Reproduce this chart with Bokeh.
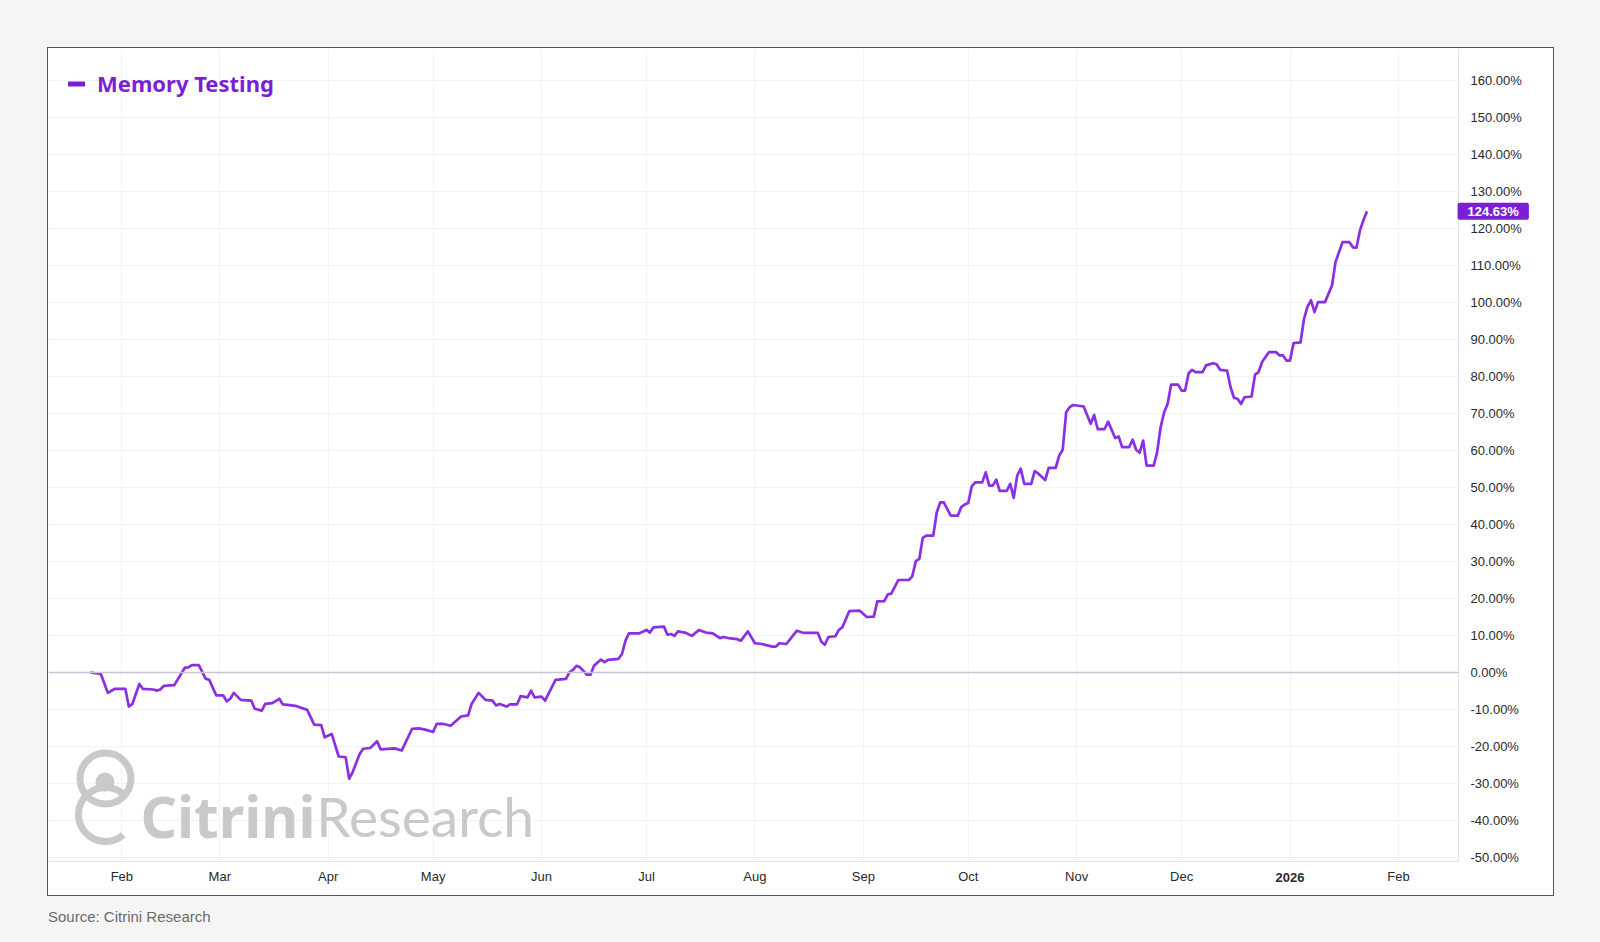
import math
import datetime as dt
from bokeh.plotting import figure
from bokeh.models import (FixedTicker, PrintfTickFormatter, DatetimeTickFormatter, Span, Label,
                          Legend, LegendItem, ColumnDataSource, Div, Spacer)
from bokeh.layouts import column, row
from bokeh.embed import file_html
from bokeh.resources import INLINE

# ---------------- data ----------------
series_name = "Memory Testing"

dates = [
    "2025-01-23", "2025-01-26", "2025-01-28", "2025-01-30",
    "2025-02-02", "2025-02-03", "2025-02-04", "2025-02-06", "2025-02-07", "2025-02-10", "2025-02-11",
    "2025-02-12", "2025-02-13", "2025-02-16", "2025-02-19", "2025-02-20", "2025-02-21", "2025-02-23",
    "2025-02-25", "2025-02-26", "2025-02-28",
    "2025-03-02", "2025-03-03", "2025-03-04", "2025-03-05", "2025-03-07", "2025-03-10", "2025-03-11",
    "2025-03-13", "2025-03-14", "2025-03-16", "2025-03-18", "2025-03-19", "2025-03-21", "2025-03-23",
    "2025-03-26", "2025-03-28", "2025-03-30", "2025-03-31",
    "2025-04-02", "2025-04-04", "2025-04-06", "2025-04-07", "2025-04-08", "2025-04-10", "2025-04-11",
    "2025-04-13", "2025-04-15", "2025-04-16", "2025-04-20", "2025-04-22", "2025-04-25", "2025-04-27",
    "2025-04-29",
    "2025-05-01", "2025-05-02", "2025-05-04", "2025-05-06", "2025-05-09", "2025-05-11", "2025-05-12",
    "2025-05-14", "2025-05-16", "2025-05-18", "2025-05-19", "2025-05-20", "2025-05-22", "2025-05-23",
    "2025-05-25", "2025-05-26", "2025-05-28", "2025-05-29", "2025-05-30",
    "2025-06-01", "2025-06-02", "2025-06-05", "2025-06-08", "2025-06-09", "2025-06-10", "2025-06-11",
    "2025-06-12", "2025-06-14", "2025-06-15", "2025-06-16", "2025-06-18", "2025-06-19", "2025-06-20",
    "2025-06-23", "2025-06-24", "2025-06-25", "2025-06-26", "2025-06-29",
    "2025-07-01", "2025-07-02", "2025-07-03", "2025-07-06", "2025-07-07", "2025-07-08", "2025-07-09",
    "2025-07-10", "2025-07-12", "2025-07-14", "2025-07-16", "2025-07-18", "2025-07-20", "2025-07-22",
    "2025-07-23", "2025-07-25", "2025-07-27", "2025-07-28", "2025-07-30",
    "2025-08-01", "2025-08-03", "2025-08-06", "2025-08-07", "2025-08-08", "2025-08-10", "2025-08-13",
    "2025-08-15", "2025-08-19", "2025-08-20", "2025-08-21", "2025-08-22", "2025-08-24", "2025-08-25",
    "2025-08-26", "2025-08-28", "2025-08-31",
    "2025-09-02", "2025-09-04", "2025-09-05", "2025-09-07", "2025-09-08", "2025-09-09", "2025-09-11",
    "2025-09-14", "2025-09-15", "2025-09-16", "2025-09-17", "2025-09-18", "2025-09-19", "2025-09-21",
    "2025-09-22", "2025-09-23", "2025-09-24", "2025-09-26", "2025-09-28", "2025-09-29", "2025-09-30",
    "2025-10-01", "2025-10-02", "2025-10-03", "2025-10-05", "2025-10-06", "2025-10-07", "2025-10-08",
    "2025-10-09", "2025-10-10", "2025-10-12", "2025-10-13", "2025-10-14", "2025-10-15", "2025-10-16",
    "2025-10-17", "2025-10-19", "2025-10-20", "2025-10-21", "2025-10-23", "2025-10-24", "2025-10-26",
    "2025-10-27", "2025-10-28", "2025-10-29", "2025-10-30", "2025-10-31",
    "2025-11-03", "2025-11-05", "2025-11-06", "2025-11-07", "2025-11-09", "2025-11-10", "2025-11-12",
    "2025-11-13", "2025-11-14", "2025-11-16", "2025-11-17", "2025-11-18", "2025-11-19", "2025-11-20",
    "2025-11-21", "2025-11-23", "2025-11-24", "2025-11-25", "2025-11-26", "2025-11-27", "2025-11-28",
    "2025-11-30",
    "2025-12-01", "2025-12-02", "2025-12-03", "2025-12-04", "2025-12-05", "2025-12-07", "2025-12-08",
    "2025-12-10", "2025-12-11", "2025-12-12", "2025-12-14", "2025-12-15", "2025-12-16", "2025-12-17",
    "2025-12-18", "2025-12-19", "2025-12-21", "2025-12-22", "2025-12-23", "2025-12-24", "2025-12-26",
    "2025-12-28", "2025-12-29", "2025-12-30", "2025-12-31",
    "2026-01-01", "2026-01-02", "2026-01-04", "2026-01-05", "2026-01-06", "2026-01-07", "2026-01-08",
    "2026-01-09", "2026-01-11", "2026-01-13", "2026-01-14", "2026-01-16", "2026-01-18", "2026-01-19",
    "2026-01-20", "2026-01-21", "2026-01-22", "2026-01-23",
]

values = [
    0.0, -0.4, -5.5, -4.4,
    -4.4, -9.2, -8.5, -3.1, -4.4, -4.6, -4.9,
    -4.6, -3.6, -3.4, 1.3, 1.4, 2.0, 2.0,
    -1.7, -2.0, -6.2,
    -6.2, -7.8, -7.1, -5.5, -7.4, -7.6, -9.8,
    -10.3, -8.5, -8.3, -7.1, -8.6, -8.8, -9.1,
    -10.1, -14.1, -14.2, -17.5,
    -16.6, -22.7, -22.9, -28.7, -26.9, -22.0, -20.6,
    -20.4, -18.6, -20.8, -20.5, -21.1, -15.2, -15.1,
    -15.5,
    -16.1, -13.9, -13.9, -14.4, -11.9, -11.6, -8.5,
    -5.5, -7.4, -7.6, -8.9, -8.5, -9.2, -8.6,
    -8.6, -6.4, -6.7, -4.9, -6.7,
    -6.5, -7.6, -2.0, -1.7, 0.1, 0.7, 1.8,
    1.4, -0.6, -0.6, 1.8, 3.5, 2.8, 3.4,
    3.7, 5.0, 8.6, 10.6, 10.6,
    11.5, 10.8, 12.2, 12.4, 10.2, 10.4, 9.9,
    11.1, 10.8, 9.9, 11.5, 10.8, 10.6, 9.3,
    9.6, 9.2, 9.0, 8.6, 11.1,
    7.9, 7.7, 7.0, 7.0, 7.9, 7.7, 11.3,
    10.7, 10.7, 8.3, 7.5, 9.6, 9.8, 11.5,
    12.2, 16.6, 16.7,
    15.0, 15.1, 19.2, 19.3, 21.1, 21.3, 25.0,
    25.0, 26.0, 30.1, 30.7, 36.4, 37.0, 37.0,
    43.3, 46.0, 46.0, 42.4, 42.4, 44.7, 45.4,
    45.8, 50.3, 51.4, 51.4, 54.1, 50.5, 50.5,
    52.1, 49.1, 49.1, 51.0, 47.2, 53.2, 55.1,
    51.0, 51.0, 54.4, 53.8, 52.0, 55.3, 55.3,
    58.6, 60.2, 70.4, 71.7, 72.3,
    71.9, 67.2, 69.6, 65.8, 65.8, 67.8, 63.4,
    63.8, 60.9, 60.9, 62.9, 60.2, 59.4, 62.7,
    55.9, 55.9, 59.5, 66.3, 70.3, 72.6, 77.8,
    77.8,
    76.2, 76.2, 80.9, 81.8, 81.2, 81.2, 83.0,
    83.6, 83.3, 81.8, 81.6, 77.1, 74.2, 74.0,
    72.6, 74.4, 74.6, 80.5, 81.2, 83.9, 86.6,
    86.6, 85.7, 85.7, 84.3,
    84.3, 89.0, 89.2, 95.6, 98.9, 100.6, 97.4,
    100.1, 100.1, 104.6, 110.9, 116.3, 116.3, 114.9,
    114.8, 119.5, 122.3, 124.63,
]

y_ticks = [-50, -40, -30, -20, -10, 0, 10, 20, 30, 40, 50, 60, 70, 80, 90, 100, 110, 120, 130, 140, 150, 160]
month_ticks = ["2025-02-01", "2025-03-01", "2025-04-01", "2025-05-01", "2025-06-01", "2025-07-01",
               "2025-08-01", "2025-09-01", "2025-10-01", "2025-11-01", "2025-12-01", "2026-01-01",
               "2026-02-01"]
month_labels = ["Feb", "Mar", "Apr", "May", "Jun", "Jul", "Aug", "Sep", "Oct", "Nov", "Dec", "2026", "Feb"]
year_label = "2026"
last_tag = "124.63%"
watermark_bold = "Citrini"
watermark_light = "Research"
source_text = "Source: Citrini Research"

# ---------------- helpers ----------------
EPOCH = dt.datetime(1970, 1, 1)
DAY = 86400000


def to_ms(s):
    d = dt.datetime.strptime(s, "%Y-%m-%d")
    return int((d - EPOCH).total_seconds() * 1000)


x_ms = [to_ms(s) for s in dates]
ref = to_ms("2025-02-01")
x_start = ref - 20.97 * DAY
x_end = ref + 382.17 * DAY
y_top = 168.65
y_bot = -51.08

BOX_W, BOX_H = 1507, 849    # bordered white box (border-box sizing)
FW, FH = 1411, 813          # frame size
BOTTOM = 44                 # bottom panel (axis + value tag); overflow is clipped by the box
CW, CH = 1505, FH + BOTTOM  # canvas size
FL, FT = 48, 48             # frame top-left in page pixels


def px_x(px):
    return x_start + (px - FL) / FW * (x_end - x_start)


def px_y(py):
    return y_top - (py - FT) / FH * (y_top - y_bot)


LINE = "#8b2fe3"
TAG = "#7b1fd6"
AXIS_TXT = "#2a2a2a"
WM = "#c9c9c9"

# ---------------- figure ----------------
p = figure(width=CW, height=CH, x_axis_type="datetime", y_axis_location="right",
           x_range=(x_start, x_end), y_range=(y_bot, y_top),
           output_backend="svg", toolbar_location=None,
           min_border_left=0, min_border_top=0,
           min_border_right=CW - FW, min_border_bottom=BOTTOM,
           background_fill_color="white", border_fill_color="white")
p.outline_line_color = None
p.styles = {"flex-shrink": "0", "flex": "0 0 auto",
            "min-height": f"{CH}px", "height": f"{CH}px", "max-height": "none",
            "min-width": f"{CW}px", "width": f"{CW}px", "max-width": "none"}

xa = p.xaxis[0]
xa.ticker = FixedTicker(ticks=[to_ms(s) for s in month_ticks])
xa.formatter = DatetimeTickFormatter(months="%b", days="%b")
xa.major_label_overrides = {to_ms(s): ("" if lab == year_label else lab)
                            for s, lab in zip(month_ticks, month_labels)}
xa.axis_line_color = "#e0e3eb"
xa.major_tick_line_color = None
xa.minor_tick_line_color = None
xa.major_label_standoff = 1
xa.major_label_text_font = "Liberation Sans"
xa.major_label_text_font_size = "13px"
xa.major_label_text_color = AXIS_TXT

ya = p.yaxis[0]
ya.ticker = FixedTicker(ticks=y_ticks)
ya.formatter = PrintfTickFormatter(format="%.2f%%")
ya.axis_line_color = "#e0e3eb"
ya.major_tick_line_color = None
ya.minor_tick_line_color = None
ya.major_label_standoff = 6
ya.major_label_text_font = "Liberation Sans"
ya.major_label_text_font_size = "13px"
ya.major_label_text_color = AXIS_TXT

p.xgrid.ticker = xa.ticker
p.ygrid.ticker = ya.ticker
p.xgrid.grid_line_color = "#f3f3f6"
p.ygrid.grid_line_color = "#f3f3f6"

p.add_layout(Span(location=0, dimension="width", line_color="#c6c4d6", line_width=1.5))

# ---------------- watermark ----------------
p.scatter(x=[px_x(105)], y=[px_y(778)], marker="circle", size=51,
          fill_alpha=0, line_color=WM, line_width=7)
p.scatter(x=[px_x(104.5)], y=[px_y(781.5)], marker="circle", size=19,
          fill_color=WM, line_color=None)
p.arc(x=[px_x(105)], y=[px_y(814)], radius=27, radius_units="screen",
      start_angle=math.radians(43), end_angle=math.radians(311), direction="anticlock",
      line_color=WM, line_width=7)
p.add_layout(Label(x=px_x(140), y=px_y(815), text=watermark_bold, text_font="Noto Sans",
                   text_font_style="bold", text_font_size="57px", text_color=WM,
                   text_baseline="alphabetic", text_align="left"))
p.add_layout(Label(x=px_x(316), y=px_y(815), text=watermark_light, text_font="Lato",
                   text_font_style="normal", text_font_size="55px", text_color=WM,
                   text_baseline="alphabetic", text_align="left"))

# ---------------- series ----------------
src = ColumnDataSource(dict(x=x_ms, y=values))
main_line = p.line("x", "y", source=src, line_color=LINE, line_width=2.7, line_join="round")
legend_glyph = p.line("x", "y", source=src, line_color=TAG, line_width=5, line_cap="round",
                      visible=False)

legend = Legend(items=[LegendItem(label=series_name, renderers=[legend_glyph])],
                location="top_left", margin=20, padding=0,
                glyph_width=17, glyph_height=9, label_height=16, label_standoff=12,
                label_text_font="Noto Sans", label_text_font_style="bold",
                label_text_font_size="22px", label_text_color=TAG,
                label_text_line_height=0.8,
                border_line_color=None, background_fill_alpha=0)
p.add_layout(legend)

# Labels placed in side panels are not clipped to the frame; each is put into the
# panel that has spare room for its size (tag: below, year: right).
last_ms, last_val = x_ms[-1], values[-1]
last_px = FL + (last_ms - x_start) / (x_end - x_start) * FW
p.add_layout(Label(x=last_ms, y=last_val, x_offset=(FL + FW) - last_px - 1, text=last_tag,
                   text_align="left", text_baseline="middle", text_font="Liberation Sans",
                   text_font_size="13px", text_font_style="bold", text_color="white",
                   background_fill_color=TAG,
                   padding=dict(left=10, right=10, top=1, bottom=1), border_radius=2), "below")

p.add_layout(Label(x=to_ms("2026-01-01"), y=y_bot, y_offset=-16, text=year_label,
                   text_align="center", text_baseline="middle", text_font="Liberation Sans",
                   text_font_size="13px", text_font_style="bold", text_color=AXIS_TXT), "right")

# ---------------- page layout ----------------
box = column(p, width=BOX_W, height=BOX_H,
             styles={"border": "1px solid #555555", "overflow": "hidden",
                     "background-color": "white", "box-sizing": "border-box"})

src_div = Div(text=source_text, width=400, height=20, margin=0,
              styles={"font-family": "Liberation Sans, Arial, sans-serif", "font-size": "15px",
                      "color": "#6b6b6b", "line-height": "20px"})

layout = column(
    Spacer(width=1600, height=47),
    row(Spacer(width=47, height=BOX_H), box),
    Spacer(width=1600, height=11),
    row(Spacer(width=48, height=20), src_div),
    width=1600, height=942, styles={"background-color": "#f5f5f5"},
)

with open("out.html", "w") as f:
    f.write(file_html(layout, INLINE))
